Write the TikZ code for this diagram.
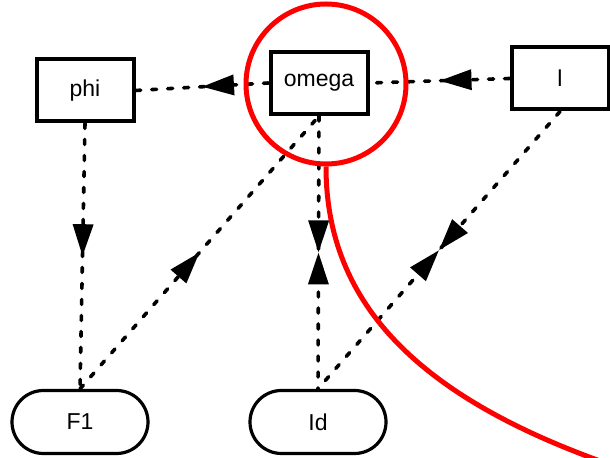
\documentclass[tikz,border=0pt]{standalone}
\usepackage{fontspec}
\setmainfont{Liberation Sans}
\usepackage{tikz}
\usetikzlibrary{arrows.meta,decorations.markings}
\definecolor{FocusRed}{RGB}{255,0,0}

\tikzset{
  box/.style={draw, line width=2pt, minimum width=48.5pt, minimum height=31pt, inner sep=0pt},
  pill/.style={draw, line width=1.6pt, rounded corners=15.75pt, minimum width=68pt, minimum height=31.5pt, inner sep=0pt},
  link/.style={line width=1.8pt, line cap=round, dash pattern=on 2.5pt off 5.5pt},
  midtip/.style={postaction={decorate}, decoration={markings,
    mark=at position 0.5 with {\arrow{Triangle[length=16pt,width=10pt]}}}},
  midtwo/.style={postaction={decorate}, decoration={markings,
    mark=at position 0.5 with {\arrow{Triangle[length=16pt,width=10pt]}\arrowreversed{Triangle[length=16pt,width=10pt]}}}}
}

\begin{document}
\begin{tikzpicture}[x=0.5pt, y=-0.5pt, every node/.style={font=\fontsize{11.5pt}{14pt}\selectfont}]
\useasboundingbox (0,0) rectangle (610,458);
\clip (0,0) rectangle (610,458);

\node[box] (phi) at (85,90.5) {phi};
\node[box] (omega) at (319,83) {omega};
\node[box] (l) at (560,78.5) {l};
\node[pill] (f1) at (80,422) {F1};
\node[pill] (id) at (318,422) {Id};

\draw[link, midtip] (omega.west) -- (phi.east);
\draw[link, midtip] (l.west) -- (omega.east);
\draw[link, midtip] (phi.south) -- (f1.north);
\draw[link, midtip] (f1.north) -- (omega.south);
\draw[link, midtwo] (omega.south) -- (id.north);
\draw[link, midtwo] (l.south) -- (id.north);

% spotlight on omega
\node[circle, draw=FocusRed, line width=2.5pt, minimum size=80pt, inner sep=0pt] (focus) at (326,84) {};
\coordinate (tail) at (620,468);
\draw[FocusRed, line width=2.5pt] (focus.south) .. controls (326,305) and (420,400) .. (tail);
\end{tikzpicture}
\end{document}
